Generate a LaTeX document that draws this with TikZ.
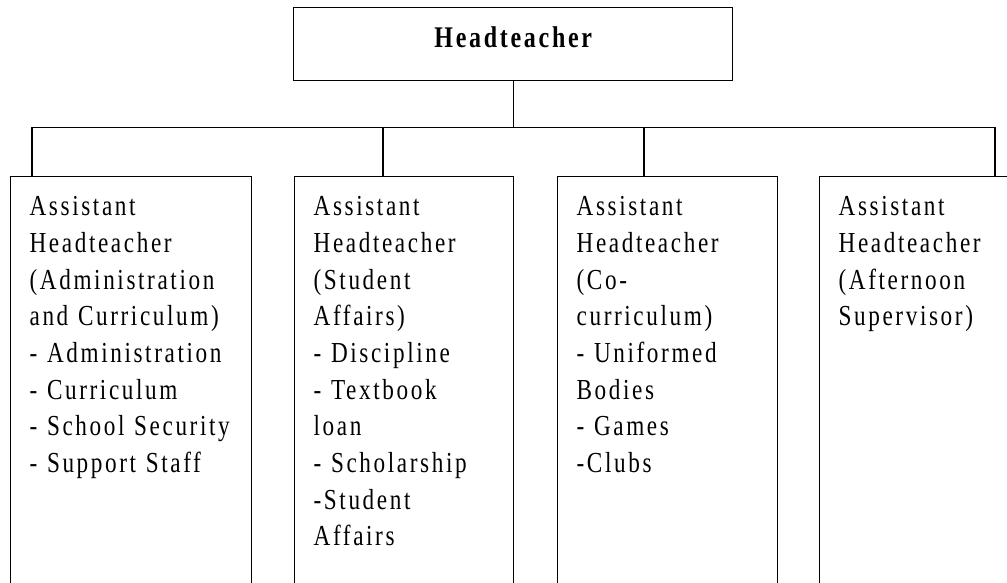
\documentclass[tikz,border=0pt]{standalone}
\usepackage{fontspec}
\newfontfamily\orgfont[FakeStretch=0.8,LetterSpace=9]{Liberation Serif}
\usetikzlibrary{positioning}
\tikzset{
  link/.style={line width=1.3pt},
  headbox/.style={draw,line width=1.3pt,minimum width=439pt,minimum height=73pt,
    inner sep=0pt,text height=14pt,text depth=6pt,
    font=\orgfont\bfseries\fontsize{30pt}{36pt}\selectfont},
  deptbox/.style={draw,line width=1.3pt,anchor=north west,align=left,
    inner xsep=19pt,inner ysep=10pt,text height=29pt,text depth=440pt,
    font=\orgfont\fontsize{29pt}{36.7pt}\selectfont}
}
\begin{document}
\begin{tikzpicture}[x=1pt,y=-1pt]
  \useasboundingbox (0,0) rectangle (1007,582);
  \node[headbox] (head) at (513.3,43.7) {Headteacher};
  \node[deptbox,text width=203pt] (admin) at (10,176) {Assistant\\Headteacher\\(Administration\\and Curriculum)\\- Administration\\- Curriculum\\-~School~Security\\- Support Staff};
  \node[deptbox,text width=181pt] (student) at (294,176) {Assistant\\Headteacher\\(Student\\Affairs)\\- Discipline\\- Textbook\\loan\\- Scholarship\\-Student\\Affairs};
  \node[deptbox,text width=182pt] (cocurr) at (557,176) {Assistant\\Headteacher\\(Co-\\curriculum)\\- Uniformed\\Bodies\\- Games\\-Clubs};
  \node[deptbox,text width=212pt] (afternoon) at (819,176) {Assistant\\Headteacher\\(Afternoon\\Supervisor)};
  % bus line under the headteacher
  \coordinate (bus) at (513.3,127.7);
  \draw[link] (head.south) -- (bus);
  \foreach \dept/\dx in {admin/22,student/89,cocurr/87,afternoon/176}
    \draw[link] ([xshift=\dx pt]\dept.north west) |- (bus);
\end{tikzpicture}
\end{document}
